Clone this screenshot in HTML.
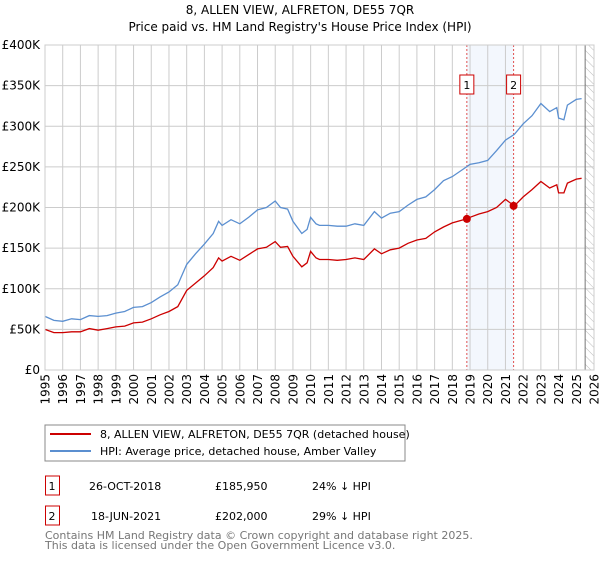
<!DOCTYPE html>
<html><head><meta charset="utf-8"><style>
body{margin:0;background:#fff;font-family:"Liberation Sans","DejaVu Sans",sans-serif;}
svg text{font-family:"DejaVu Sans","Liberation Sans",sans-serif;}
</style></head><body>
<svg id="c" width="600" height="560" xmlns="http://www.w3.org/2000/svg">
<defs><pattern id="hatch" width="6" height="6" patternUnits="userSpaceOnUse" patternTransform="rotate(-45)"><line x1="0" y1="0" x2="0" y2="6" stroke="#bbb" stroke-width="1"/></pattern></defs>
<text x="300" y="14" text-anchor="middle" font-size="12">8, ALLEN VIEW, ALFRETON, DE55 7QR</text>
<text x="300" y="31" text-anchor="middle" font-size="12">Price paid vs. HM Land Registry's House Price Index (HPI)</text>
<g id="plot"></g>
<rect x="45" y="425" width="360" height="36" fill="#fff" stroke="#888"/>
<line x1="50" y1="434" x2="91" y2="434" stroke="#cc0000" stroke-width="2"/>
<text x="100" y="438" font-size="11">8, ALLEN VIEW, ALFRETON, DE55 7QR (detached house)</text>
<line x1="50" y1="451" x2="91" y2="451" stroke="#5b8fd0" stroke-width="2"/>
<text x="100" y="455" font-size="11">HPI: Average price, detached house, Amber Valley</text>
<rect x="45.5" y="476" width="14" height="19" fill="none" stroke="#cc0000"/>
<text x="52" y="490" text-anchor="middle" font-size="11">1</text>
<text x="89" y="490" font-size="11">26-OCT-2018</text>
<text x="215" y="490" font-size="11">£185,950</text>
<text x="312" y="490" font-size="11">24% ↓ HPI</text>
<rect x="45.5" y="506" width="14" height="19" fill="none" stroke="#cc0000"/>
<text x="52" y="520" text-anchor="middle" font-size="11">2</text>
<text x="91" y="520" font-size="11">18-JUN-2021</text>
<text x="215" y="520" font-size="11">£202,000</text>
<text x="312" y="520" font-size="11">29% ↓ HPI</text>
<text x="45" y="539" font-size="11" fill="#777">Contains HM Land Registry data © Crown copyright and database right 2025.</text>
<text x="45" y="549" font-size="11" fill="#777">This data is licensed under the Open Government Licence v3.0.</text>
</svg>
<script>
const yearTicks=[1995,1996,1997,1998,1999,2000,2001,2002,2003,2004,2005,2006,2007,2008,2009,2010,2011,2012,2013,2014,2015,2016,2017,2018,2019,2020,2021,2022,2023,2024,2025,2026];
const valueTicks=[0,50,100,150,200,250,300,350,400];
const valueTickLabels=["£0","£50K","£100K","£150K","£200K","£250K","£300K","£350K","£400K"];
const seriesDates=[1995,1995.5,1996,1996.5,1997,1997.5,1998,1998.5,1999,1999.5,2000,2000.5,2001,2001.5,2002,2002.5,2003,2003.5,2004,2004.5,2004.8,2005,2005.5,2006,2006.5,2007,2007.5,2008,2008.3,2008.7,2009,2009.5,2009.8,2010,2010.3,2010.5,2011,2011.5,2012,2012.5,2013,2013.6,2014,2014.5,2015,2015.5,2016,2016.5,2017,2017.5,2018,2018.8,2019,2019.5,2020,2020.5,2021,2021.5,2022,2022.5,2023,2023.5,2023.9,2024,2024.3,2024.5,2025,2025.3];
const hpiValues=[66,61,60,63,62,67,66,67,70,72,77,78,83,90,96,105,130,143,155,168,183,178,185,180,188,197,200,208,200,198,183,168,173,188,180,178,178,177,177,180,178,195,187,193,195,203,210,213,222,233,238,250,253,255,258,270,283,290,303,313,328,318,323,310,308,326,333,334];
const priceValues=[50,46,46,47,47,51,49,51,53,54,58,59,63,68,72,78,98,107,116,126,138,134,140,135,142,149,151,158,151,152,140,127,132,146,138,136,136,135,136,138,136,149,143,148,150,156,160,162,170,176,181,186,188,192,195,200,210,202,213,222,232,224,228,218,218,230,235,236];
const saleDates=[2018.82,2021.46];
const saleValues=[185.95,202];
const saleLabels=["1","2"];
const X0=45,X1=594,Y0=370,Y1=45;
const xs=d=>X0+(d-1995)/(2026-1995)*(X1-X0);
const ys=v=>Y0-v/400*(Y0-Y1);
const NS="http://www.w3.org/2000/svg";
const g=document.getElementById('plot');
function mk(t,a){const e=document.createElementNS(NS,t);for(const k in a)e.setAttribute(k,a[k]);g.appendChild(e);return e;}
let e;
e=mk('rect',{x:xs(saleDates[0]),y:Y1,width:xs(saleDates[1])-xs(saleDates[0]),height:Y0-Y1,fill:'#eef3fc',opacity:0.7});


valueTicks.forEach((v,i)=>{
 e=mk('line',{x1:X0,x2:X1,y1:ys(v),y2:ys(v),stroke:'#ccc'});
 
 
 e=mk('text',{x:40,y:ys(v)+4,'text-anchor':'end','font-size':12});
 e.textContent=valueTickLabels[i];
 
 
});
yearTicks.forEach(y=>{
 e=mk('line',{x1:xs(y),x2:xs(y),y1:Y1,y2:Y0,stroke:'#ccc'});
 
 
 e=mk('text',{x:0,y:0,'text-anchor':'end','font-size':12,transform:`translate(${xs(y)+4.5},374) rotate(-90)`});
 e.textContent=y;
 
 
});
e=mk('rect',{x:xs(2025.5),y:Y1,width:X1-xs(2025.5),height:Y0-Y1,fill:'url(#hatch)'});


e=mk('line',{x1:xs(2025.5),x2:xs(2025.5),y1:Y1,y2:Y0,stroke:'#777'});


saleDates.forEach((d,i)=>{
 e=mk('line',{x1:xs(d),x2:xs(d),y1:Y1,y2:Y0,stroke:'#e05050','stroke-dasharray':'2,2'});
 
 
 e=mk('rect',{x:xs(d)-7,y:75,width:14,height:19,fill:'#fff',stroke:'#cc0000'});
 
 
 e=mk('text',{x:xs(d),y:89,'text-anchor':'middle','font-size':11});
 e.textContent=saleLabels[i];
 
 
});
function path(vals,color,name){
 const d=seriesDates.map((t,i)=>(i?'L':'M')+xs(t).toFixed(1)+','+ys(vals[i]).toFixed(1)).join('');
 e=mk('path',{d:d,fill:'none',stroke:color,'stroke-width':1.3});
 
 
}
path(hpiValues,'#5b8fd0','hpi-line');
path(priceValues,'#cc0000','price-line');
saleDates.forEach((d,i)=>{
 e=mk('circle',{cx:xs(d),cy:ys(saleValues[i]),r:4,fill:'#cc0000'});
 
 
});
e=mk('rect',{x:X0,y:Y1,width:X1-X0,height:Y0-Y1,fill:'none',stroke:'#ccc'});


</script>
</body></html>
